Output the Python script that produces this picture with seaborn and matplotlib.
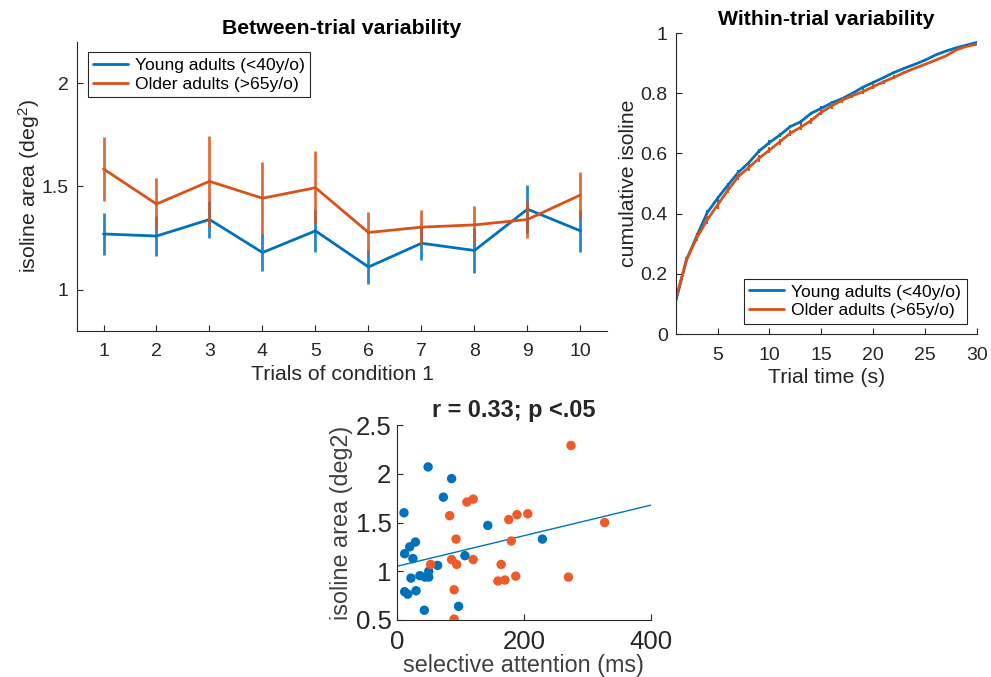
import numpy as np
import pandas as pd
import matplotlib
matplotlib.use("Agg")
import matplotlib.pyplot as plt
import seaborn as sns
from matplotlib.ticker import FormatStrFormatter

sns.set_theme(style="ticks")
plt.rcParams['font.family'] = ['Liberation Sans', 'DejaVu Sans']
plt.rcParams['mathtext.fontset'] = 'custom'
plt.rcParams['mathtext.rm'] = 'Liberation Sans'
plt.rcParams['mathtext.it'] = 'Liberation Sans'

BLUE = '#0072BD'
ORANGE = '#D95319'
SC_ORANGE = '#EE5A28'
DARK = '#262626'

# ---- between-trial data ----
trials = [1, 2, 3, 4, 5, 6, 7, 8, 9, 10]
young_between = [1.27, 1.26, 1.34, 1.18, 1.285, 1.11, 1.225, 1.19, 1.39, 1.285]
young_between_err = [0.10, 0.097, 0.088, 0.09, 0.10, 0.08, 0.08, 0.11, 0.117, 0.10]
older_between = [1.585, 1.415, 1.525, 1.443, 1.494, 1.277, 1.303, 1.314, 1.34, 1.459]
older_between_err = [0.155, 0.125, 0.22, 0.177, 0.177, 0.10, 0.085, 0.09, 0.09, 0.11]

# ---- within-trial data ----
trial_time = list(range(1, 31))
young_within = [0.113, 0.246, 0.326, 0.403, 0.451, 0.495, 0.537, 0.569, 0.608, 0.636,
                0.661, 0.689, 0.705, 0.733, 0.750, 0.768, 0.782, 0.800, 0.820, 0.836,
                0.852, 0.869, 0.883, 0.896, 0.910, 0.927, 0.940, 0.951, 0.960, 0.969]
young_within_err = [0.006, 0.008, 0.008, 0.008, 0.008, 0.007, 0.007, 0.007, 0.007, 0.007,
                    0.006, 0.006, 0.006, 0.006, 0.006, 0.005, 0.005, 0.005, 0.005, 0.005,
                    0.004, 0.004, 0.003, 0.003, 0.003, 0.002, 0.002, 0.002, 0.002, 0.002]
older_within = [0.120, 0.246, 0.320, 0.379, 0.429, 0.478, 0.523, 0.553, 0.584, 0.611,
                0.639, 0.667, 0.687, 0.709, 0.737, 0.758, 0.777, 0.792, 0.805, 0.822,
                0.838, 0.853, 0.869, 0.883, 0.896, 0.910, 0.924, 0.944, 0.956, 0.963]
older_within_err = [0.008, 0.010, 0.012, 0.012, 0.012, 0.011, 0.011, 0.011, 0.011, 0.011,
                    0.010, 0.010, 0.010, 0.010, 0.010, 0.009, 0.009, 0.009, 0.009, 0.008,
                    0.007, 0.006, 0.005, 0.004, 0.003, 0.003, 0.002, 0.002, 0.002, 0.002]

# ---- scatter data ----
young_att = [49, 86, 73, 11, 143, 29, 20, 12, 25, 107, 64, 22, 36, 44, 50, 50, 12, 17, 30, 43, 97, 229]
young_area = [2.07, 1.95, 1.76, 1.60, 1.47, 1.30, 1.25, 1.18, 1.13, 1.16, 1.06, 0.93, 0.955, 0.94,
              0.94, 1.00, 0.79, 0.765, 0.80, 0.60, 0.64, 1.33]
older_att = [110, 120, 83, 176, 189, 206, 93, 180, 53, 86, 94, 120, 164, 159, 170, 187, 90, 90, 274, 327, 270]
older_area = [1.71, 1.74, 1.57, 1.53, 1.58, 1.59, 1.33, 1.31, 1.07, 1.12, 1.07, 1.12, 1.07, 0.90,
              0.91, 0.95, 0.81, 0.51, 2.29, 1.50, 0.94]

labels = ['Young adults (<40y/o)', 'Older adults (>65y/o)']

fig = plt.figure(figsize=(9.91, 6.77), dpi=100)
ax1 = fig.add_axes([0.0777, 0.5111, 0.5348, 0.4269])
ax2 = fig.add_axes([0.6822, 0.5066, 0.3037, 0.4446])
ax3 = fig.add_axes([0.4006, 0.0842, 0.2563, 0.2880])


def matlab_axes(ax, tick_size, pad=6):
    sns.despine(ax=ax)
    for s in ['left', 'bottom']:
        ax.spines[s].set_color(DARK)
        ax.spines[s].set_linewidth(0.8)
    ax.tick_params(direction='in', length=4, width=0.8, colors=DARK,
                   labelsize=tick_size, labelcolor=DARK, pad=pad)


def add_legend(ax, loc):
    leg = ax.legend(loc=loc, fontsize=12.6, frameon=True, fancybox=False,
                    framealpha=1, edgecolor=DARK, borderpad=0.3, handlelength=2.0,
                    labelspacing=0.2, borderaxespad=0.6, handletextpad=0.4)
    leg.get_frame().set_linewidth(0.8)
    for t in leg.get_texts():
        t.set_color('black')


# 1. Between-trial
ax = ax1
sns.lineplot(x=trials, y=young_between, color=BLUE, lw=2, ax=ax, label=labels[0])
sns.lineplot(x=trials, y=older_between, color=ORANGE, lw=2, ax=ax, label=labels[1])
ax.errorbar(trials, young_between, yerr=young_between_err, fmt='none',
            ecolor=BLUE, elinewidth=2, capsize=0, alpha=0.85)
ax.errorbar(trials, older_between, yerr=older_between_err, fmt='none',
            ecolor=ORANGE, elinewidth=2, capsize=0, alpha=0.85)
ax.set_xlim(0.5, 10.5)
ax.set_ylim(0.8, 2.2)
ax.set_xticks(trials)
ax.set_yticks([1, 1.5, 2])
ax.yaxis.set_major_formatter(FormatStrFormatter('%g'))
matlab_axes(ax, 14)
ax.tick_params(axis='x', pad=9)
ax.set_xlabel('Trials of condition 1', fontsize=15.3, color=DARK, labelpad=3)
ax.set_ylabel('isoline area (deg$^2$)', fontsize=15.3, color=DARK, labelpad=0)
ax.set_title('Between-trial variability', fontsize=15.3, fontweight='bold', color='black', pad=6)
add_legend(ax, 'upper left')

# 2. Within-trial
ax = ax2
sns.lineplot(x=trial_time, y=young_within, color=BLUE, lw=2, ax=ax, label=labels[0])
sns.lineplot(x=trial_time, y=older_within, color=ORANGE, lw=2, ax=ax, label=labels[1])
ax.errorbar(trial_time, young_within, yerr=young_within_err, fmt='none',
            ecolor=BLUE, elinewidth=1.5, capsize=0)
ax.errorbar(trial_time, older_within, yerr=older_within_err, fmt='none',
            ecolor=ORANGE, elinewidth=1.5, capsize=0)
ax.set_xlim(1, 30)
ax.set_ylim(0, 1)
ax.set_xticks([5, 10, 15, 20, 25, 30])
ax.set_yticks([0, 0.2, 0.4, 0.6, 0.8, 1])
ax.yaxis.set_major_formatter(FormatStrFormatter('%g'))
matlab_axes(ax, 14)
ax.tick_params(axis='x', pad=9)
ax.set_xlabel('Trial time (s)', fontsize=15.3, color=DARK, labelpad=3)
ax.set_ylabel('cumulative isoline', fontsize=15.3, color=DARK, labelpad=2)
ax.set_title('Within-trial variability', fontsize=15.3, fontweight='bold', color='black', pad=6)
add_legend(ax, 'lower right')

# 3. Scatter
ax = ax3
df = pd.DataFrame({
    'attention': young_att + older_att,
    'area': young_area + older_area,
    'group': ['young'] * len(young_att) + ['older'] * len(older_att),
})
ax.set_xlim(0, 400)
ax.set_ylim(0.5, 2.5)
sns.scatterplot(data=df, x='attention', y='area', hue='group',
                palette={'young': BLUE, 'older': SC_ORANGE}, s=46,
                edgecolor='none', legend=False, ax=ax, zorder=3)
sns.regplot(data=df, x='attention', y='area', scatter=False, ci=None,
            truncate=False, color=BLUE, line_kws={'lw': 1}, ax=ax)
ax.set_xlim(0, 400)
ax.set_ylim(0.5, 2.5)
ax.set_xticks([0, 200, 400])
ax.set_yticks([0.5, 1, 1.5, 2, 2.5])
ax.yaxis.set_major_formatter(FormatStrFormatter('%g'))
matlab_axes(ax, 18.5, pad=4)
ax.tick_params(axis='x', pad=7)
ax.set_xlabel('selective attention (ms)', fontsize=16.8, color='#404040', labelpad=0)
ax.set_ylabel('isoline area (deg2)', fontsize=16.8, color='#404040', labelpad=2)
ax.set_title('r = 0.33; p <.05', fontsize=16.9, fontweight='bold', color=DARK, pad=6, x=0.46)

fig.savefig('out.png', dpi=100)
